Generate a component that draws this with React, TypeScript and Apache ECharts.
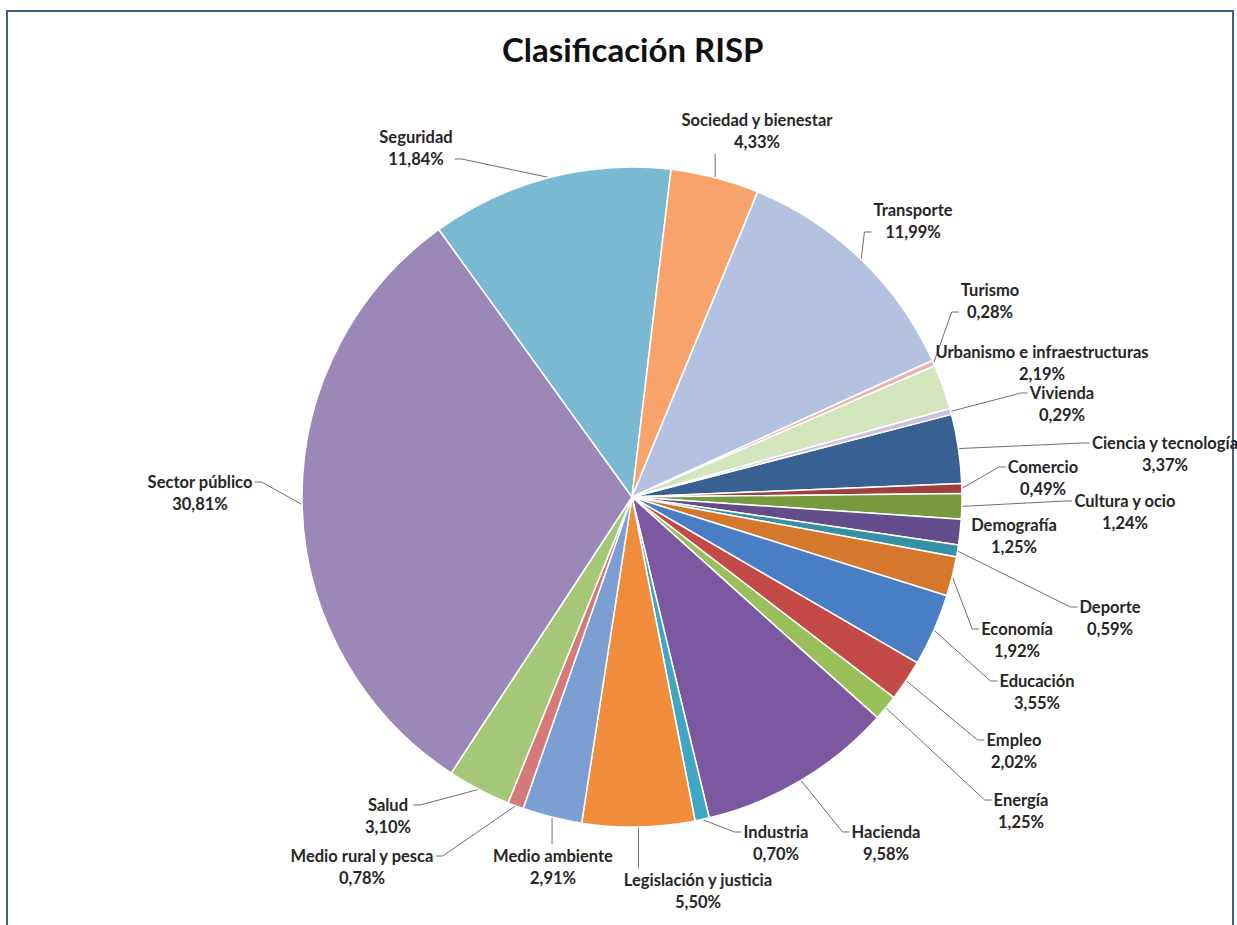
import React, { useEffect, useRef } from "react";
import * as echarts from "echarts";

const categories = [
  "Ciencia y tecnología",
  "Comercio",
  "Cultura y ocio",
  "Demografía",
  "Deporte",
  "Economía",
  "Educación",
  "Empleo",
  "Energía",
  "Hacienda",
  "Industria",
  "Legislación y justicia",
  "Medio ambiente",
  "Medio rural y pesca",
  "Salud",
  "Sector público",
  "Seguridad",
  "Sociedad y bienestar",
  "Transporte",
  "Turismo",
  "Urbanismo e infraestructuras",
  "Vivienda",
];

const values = [
  3.37, 0.49, 1.24, 1.25, 0.59, 1.92, 3.55, 2.02, 1.25, 9.58, 0.7, 5.5, 2.91,
  0.78, 3.1, 30.81, 11.84, 4.33, 11.99, 0.28, 2.19, 0.29,
];

const colors = [
  "#386090", "#a0403c", "#789a3e", "#634c8a", "#3691a5", "#d6772e",
  "#4a7ec4", "#c44a48", "#99c05a", "#7c58a0", "#3fa6c4", "#f08c3c",
  "#7d9ed3", "#d57a78", "#a5c878", "#9b87b8", "#79b9d1", "#f9a36c",
  "#b2c2e0", "#e8b4b2", "#d4e4bd", "#cbc0dd",
];

const titleText = "Clasificación RISP";

// Layout only: centre of each two-line label block (same order as categories)
const labelCenters: [number, number][] = [
  [1165, 454], [1043, 478], [1125, 512], [1014, 536], [1110, 618],
  [1017, 640], [1037, 692], [1014, 751], [1021, 811], [886, 843],
  [776, 843], [698, 891], [553, 867], [362, 867], [388, 816],
  [200, 493], [416, 148], [757, 131], [913, 221], [990, 301],
  [1042, 363], [1062, 404],
];
const hiddenLines = ["Demografía"];

export default function App() {
  const ref = useRef<HTMLDivElement>(null);
  useEffect(() => {
    document.body.style.margin = "0";
    if (!ref.current) return;
    const chart = echarts.init(ref.current, null, { renderer: "svg" });
    chart.setOption({
      animation: false,
      backgroundColor: "#ffffff",
      color: colors,
      title: {
        text: titleText,
        left: 497,
        top: 27,
        textStyle: {
          fontFamily: "Lato",
          fontWeight: "bold",
          fontSize: 33,
          color: "#111111",
        },
      },
      graphic: [
        {
          type: "rect",
          shape: { x: 7, y: 11, width: 1226, height: 960 },
          style: { fill: "none", stroke: "#3a5f8b", lineWidth: 2 },
          silent: true,
        },
      ],
      series: [
        {
          type: "pie",
          center: [632, 497],
          radius: 330,
          startAngle: 14.5,
          clockwise: true,
          avoidLabelOverlap: false,
          itemStyle: { borderColor: "#ffffff", borderWidth: 1.5 },
          label: {
            show: true,
            position: "outside",
            fontFamily: "Lato",
            fontWeight: "bold",
            fontSize: 16.5,
            lineHeight: 22,
            color: "#262626",
            align: "center",
            formatter: (p: any) =>
              p.name + "\n" + p.value.toFixed(2).replace(".", ",") + "%",
          },
          labelLine: {
            show: true,
            length: 10,
            length2: 10,
            lineStyle: { color: "#6e6e6e", width: 1 },
          },
          labelLayout: (params: any) => {
            const i = params.dataIndex;
            const [cx, cy] = labelCenters[i];
            const w = params.labelRect.width;
            const h = params.labelRect.height;
            const left = cx - w / 2;
            const right = cx + w / 2;
            const top = cy - h / 2;
            const bottom = cy + h / 2;
            const out: any = {
              x: cx,
              y: cy,
              align: "center",
              verticalAlign: "middle",
            };
            const lp = params.labelLinePoints;
            if (lp && lp.length) {
              const a = lp[0];
              let elbow: number[];
              let end: number[];
              const yLine = a[1] > bottom ? top + h * 0.75 : top + h * 0.25;
              if (a[0] < left) {
                end = [left - 2, yLine];
                elbow = [left - 9, yLine];
              } else if (a[0] > right) {
                end = [right + 2, yLine];
                elbow = [right + 9, yLine];
              } else if (a[1] > bottom) {
                const xv = Math.min(Math.max(a[0], left + 4), right - 4);
                end = [xv, bottom + 1];
                elbow = [xv, bottom + 6];
              } else {
                const xv = Math.min(Math.max(a[0], left + 4), right - 4);
                end = [xv, top - 1];
                elbow = [xv, top - 6];
              }
              out.labelLinePoints = [a, elbow, end];
            }
            return out;
          },
          data: categories.map((c, i) => ({
            name: c,
            value: values[i],
            labelLine: hiddenLines.includes(c) ? { show: false } : undefined,
          })),
        },
      ],
    });
    return () => chart.dispose();
  }, []);
  return <div ref={ref} style={{ width: 1237, height: 925 }} />;
}
